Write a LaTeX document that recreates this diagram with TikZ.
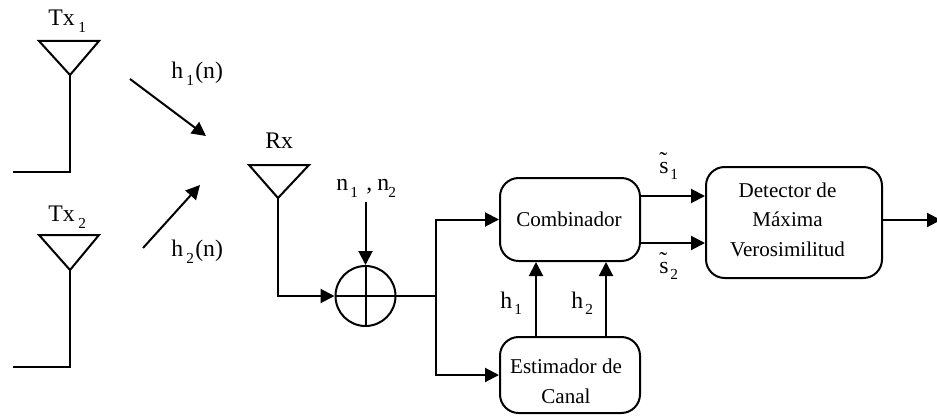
\documentclass[tikz,border=0pt]{standalone}
\usepackage{fontspec}
\setmainfont{Liberation Serif}
\usetikzlibrary{arrows.meta}
\definecolor{ink}{RGB}{0,0,0}
\newcommand{\tilS}{\rlap{\raisebox{3.5pt}{\symbol{"02DC}}}s}
\tikzset{
  x=0.75pt,y=-0.75pt,
  wire/.style={line width=1.5pt,draw=ink,line join=miter},
  flow/.style={wire,-{Triangle[length=10.5pt,width=10.5pt]}},
  box/.style={draw=ink,line width=1.5pt,rounded corners=14pt,inner sep=0pt},
  boxtext/.style={inner sep=0pt,align=center,font=\fontsize{15.8}{22.1}\selectfont},
  main/.style={anchor=base west,inner sep=0pt,font=\fontsize{17.8}{19}\selectfont},
  subs/.style={anchor=base west,inner sep=0pt,font=\fontsize{11.5}{13}\selectfont}
}
\begin{document}
\begin{tikzpicture}
\useasboundingbox (0,0) rectangle (937,417);
% antennas
\coordinate (t1a) at (39,41); \coordinate (t1b) at (99,41); \coordinate (t1c) at (70,75);
\coordinate (t1d) at (70,172); \coordinate (t1e) at (13,172);
\coordinate (t2a) at (39,235); \coordinate (t2b) at (99,235); \coordinate (t2c) at (70,270);
\coordinate (t2d) at (70,367); \coordinate (t2e) at (13,367);
\coordinate (ra) at (249,165); \coordinate (rb) at (309,165); \coordinate (rc) at (278,198);
\coordinate (rd) at (278,296);
\draw[wire] (t1a) -- (t1b) -- (t1c) -- cycle;
\draw[wire] (t1c) -- (t1d) -- (t1e);
\draw[wire] (t2a) -- (t2b) -- (t2c) -- cycle;
\draw[wire] (t2c) -- (t2d) -- (t2e);
\draw[wire] (ra) -- (rb) -- (rc) -- cycle;
% channel arrows
\coordinate (c1s) at (130,79); \coordinate (c1e) at (206,136);
\coordinate (c2s) at (143,248); \coordinate (c2e) at (200,185);
\draw[flow] (c1s) -- (c1e);
\draw[flow] (c2s) -- (c2e);
% sum
\node[circle,draw=ink,line width=1.5pt,minimum size=45pt,inner sep=0pt] (sum) at (365.5,296) {};
\draw[wire] (sum.north) -- (sum.south);
\draw[wire] (sum.west) -- (sum.east);
\draw[flow] (rc) -- (rd) -- (sum.west);
\coordinate (noise) at (365.5,202);
\draw[flow] (noise) -- (sum.north);
% boxes
\node[box,minimum width=105pt,minimum height=62.25pt] (comb) at (570,219.5) {};
\node[boxtext,anchor=base] (combt) at (569,226) {Combinador};
\node[box,minimum width=105pt,minimum height=57pt] (est) at (570,375) {};
\node[boxtext] (estt) at (566,381.5) {Estimador de\\Canal};
\node[box,minimum width=132pt,minimum height=83.25pt] (det) at (794,222.5) {};
\node[boxtext] (dett) at (787.5,219.5) {Detector de\\M\'axima\\Verosimilitud};
% connections
\coordinate (split) at (436,296);
\draw[wire] (sum.east) -- (split);
\draw[flow] (split) |- (comb.west);
\draw[flow] (split) |- (est.west);
\coordinate (h1p) at (536,300); \coordinate (h2p) at (606,300);
\draw[flow] (est.north -| h1p) -- (comb.south -| h1p);
\draw[flow] (est.north -| h2p) -- (comb.south -| h2p);
\coordinate (s1p) at (700,196); \coordinate (s2p) at (700,243);
\draw[flow] (comb.east |- s1p) -- (det.west |- s1p);
\draw[flow] (comb.east |- s2p) -- (det.west |- s2p);
\coordinate (outp) at (941,220);
\draw[flow] (det.east |- outp) -- (outp);
% labels
\node[main] (l1) at (48,26) {Tx};
\node[subs] (l1s) at (78,33) {1};
\node[main] (l2) at (48,221) {Tx};
\node[subs] (l2s) at (78,228) {2};
\node[main] (l3) at (265,148) {Rx};
\node[main] (l4) at (171,79) {h};
\node[subs] (l4s) at (186,86) {1};
\node[main] (l4p) at (195,79) {(n)};
\node[main] (l5) at (171,256) {h};
\node[subs] (l5s) at (186,263) {2};
\node[main] (l5p) at (195,256) {(n)};
\node[main] (l6) at (336,190) {n};
\node[subs] (l6s) at (350,197) {1};
\node[main] (l6c) at (366,190) {,};
\node[main] (l7) at (377,190) {n};
\node[subs] (l7s) at (388,197) {2};
\node[main] (l8) at (500,308) {h};
\node[subs] (l8s) at (514,314) {1};
\node[main] (l9) at (571,308) {h};
\node[subs] (l9s) at (585,314) {2};
\node[main] (l10) at (659,173) {\tilS};
\node[subs] (l10s) at (670,179) {1};
\node[main] (l11) at (659,273) {\tilS};
\node[subs] (l11s) at (670,279) {2};
\end{tikzpicture}
\end{document}
